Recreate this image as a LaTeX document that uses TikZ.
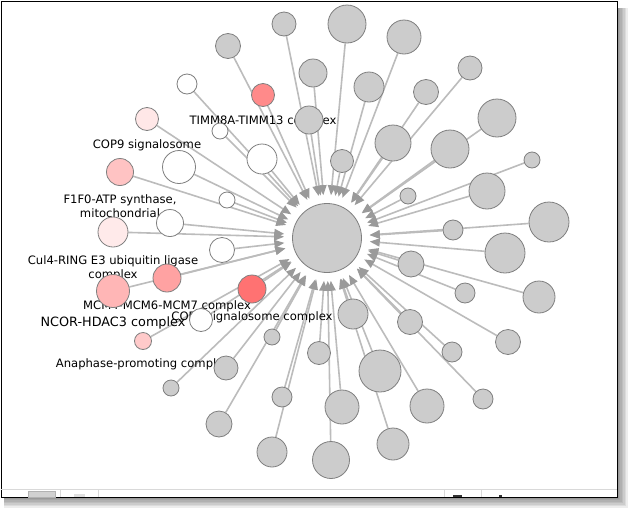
\documentclass[tikz,border=0pt]{standalone}
\usepackage{fontspec}
\setmainfont{DejaVu Sans}
\usepackage{xcolor}
\usepackage{tikz}
\usetikzlibrary{arrows.meta,positioning}
\definecolor{blobgray}{HTML}{CCCCCC}
\definecolor{rimgray}{HTML}{7F7F7F}
\definecolor{edgegray}{HTML}{BCBCBC}
\definecolor{tipgray}{HTML}{9A9A9A}
\definecolor{redA}{HTML}{FF7272}
\definecolor{redB}{HTML}{FF8A8A}
\definecolor{redC}{HTML}{FFA2A2}
\definecolor{redD}{HTML}{FFB6B6}
\definecolor{redE}{HTML}{FFC3C3}
\definecolor{redF}{HTML}{FFCACA}
\definecolor{redG}{HTML}{FFE7E7}
\definecolor{redH}{HTML}{FFEAEA}
\pgfdeclarelayer{edgelayer}
\pgfdeclarelayer{textlayer}
\pgfsetlayers{edgelayer,textlayer,main}
\tikzset{
  blob/.style={circle, draw=rimgray, line width=0.8pt, inner sep=0pt},
  edge/.style={draw=edgegray, line width=1.6pt, shorten >=8pt,
    -{Triangle[length=10pt,width=8pt,color=tipgray]}},
  lbl/.style={inner sep=0pt, font=\fontsize{11.6}{14}\selectfont, align=center},
}

\begin{document}
\begin{tikzpicture}[x=1pt,y=-1pt]
  \useasboundingbox (0,0) rectangle (629,509);
  \begin{pgfonlayer}{edgelayer}
    % window shadow + frame
    \foreach \k in {1,...,7}
      \fill[black, opacity=0.07] (4,8) rectangle (617+\k*1.5,497+\k*1.5);
    \fill[white] (1,1) rectangle (617,497);
    \draw[black, line width=1pt] (1,1) rectangle (617,497);
    % status bar
    \draw[black!15] (1,489) -- (617,489);
    \fill[black!18, draw=black!30] (28,491) rectangle (55,497);
    \fill[black!12] (74,494) rectangle (85,497);
    \foreach \sx in {60,98,444,481} \draw[black!15] (\sx,490) -- (\sx,497);
    \fill[black!80] (453,495) rectangle (462,497);
    \fill[black!80] (499,495) rectangle (502,497);
  \end{pgfonlayer}
  % hub
  \node[blob, fill=blobgray, minimum size=69pt] (hub) at (327,238) {};
  % satellites: name/x/y/diameter/fill
  \foreach \nm/\x/\y/\d/\col in {
      g1/284/24/24/blobgray, g2/228/46/25/blobgray, g3/347/24/38/blobgray,
      g4/404/37/34/blobgray, g5/313/73/28/blobgray, g6/369/87/30/blobgray,
      g7/426/92/25/blobgray, g8/470/68/24/blobgray, g9/309/120/28/blobgray,
      g10/393/143/36/blobgray, g11/497/118/38/blobgray, g12/450/149/38/blobgray,
      g13/342/161/23/blobgray, g14/532/160/16/blobgray, g15/408/196/16/blobgray,
      g16/487/191/36/blobgray, g17/549/222/40/blobgray, g18/453/230/20/blobgray,
      g19/505/253/40/blobgray, g20/411/264/26/blobgray, g21/539/297/32/blobgray,
      g22/465/293/20/blobgray, g23/353/314/30/blobgray, g24/410/322/25/blobgray,
      g25/508/342/25/blobgray, g26/452/352/20/blobgray, g27/319/353/23/blobgray,
      g28/380/371/42/blobgray, g29/427/406/34/blobgray, g30/483/399/20/blobgray,
      g31/342/407/34/blobgray, g32/393/444/32/blobgray, g33/331/460/37/blobgray,
      g34/272/452/30/blobgray, g35/282/397/20/blobgray, g36/219/424/26/blobgray,
      g37/171/388/16/blobgray, g38/226/368/24/blobgray, g39/272/337/16/blobgray,
      w1/187/84/20/white, w2/220/131/16/white, w3/179/167/33/white,
      w4/262/159/30/white, w5/227/200/16/white, w6/170/223/27/white,
      w7/222/250/25/white, w8/201/320/23/white,
      timm/263/95/23/redB, cop/147/119/23/redG, fatp/120/172/27/redE,
      cul/113/232/30/redH, mcm/167/278/28/redC, csn/252/289/28/redA,
      ncor/113/291/33/redD, apc/143/341/17/redF}
  {
    \node[blob, fill=\col, minimum size=\d pt] (\nm) at (\x,\y) {};
    \begin{pgfonlayer}{edgelayer}
      \draw[edge] (\nm) -- (hub);
    \end{pgfonlayer}
  }
  % complex labels
  \begin{pgfonlayer}{textlayer}
    \node[lbl, below=8.5pt of timm] (timm-l) {TIMM8A-TIMM13 complex};
    \node[lbl, below=8.5pt of cop] (cop-l) {COP9 signalosome};
    \node[lbl, below=8.5pt of fatp] (fatp-l) {F1F0-ATP synthase,\\mitochondrial};
    \node[lbl, below=8.5pt of cul] (cul-l) {Cul4-RING E3 ubiquitin ligase\\complex};
    \node[lbl, below=8.5pt of mcm] (mcm-l) {MCM4-MCM6-MCM7 complex};
    \node[lbl, below=8.5pt of csn] (csn-l) {COP9 signalosome complex};
    \node[lbl, font=\fontsize{12.8}{15}\selectfont, below=8.5pt of ncor] (ncor-l) {NCOR-HDAC3 complex};
    \node[lbl, below=8.5pt of apc] (apc-l) {Anaphase-promoting complex};
  \end{pgfonlayer}
\end{tikzpicture}
\end{document}
